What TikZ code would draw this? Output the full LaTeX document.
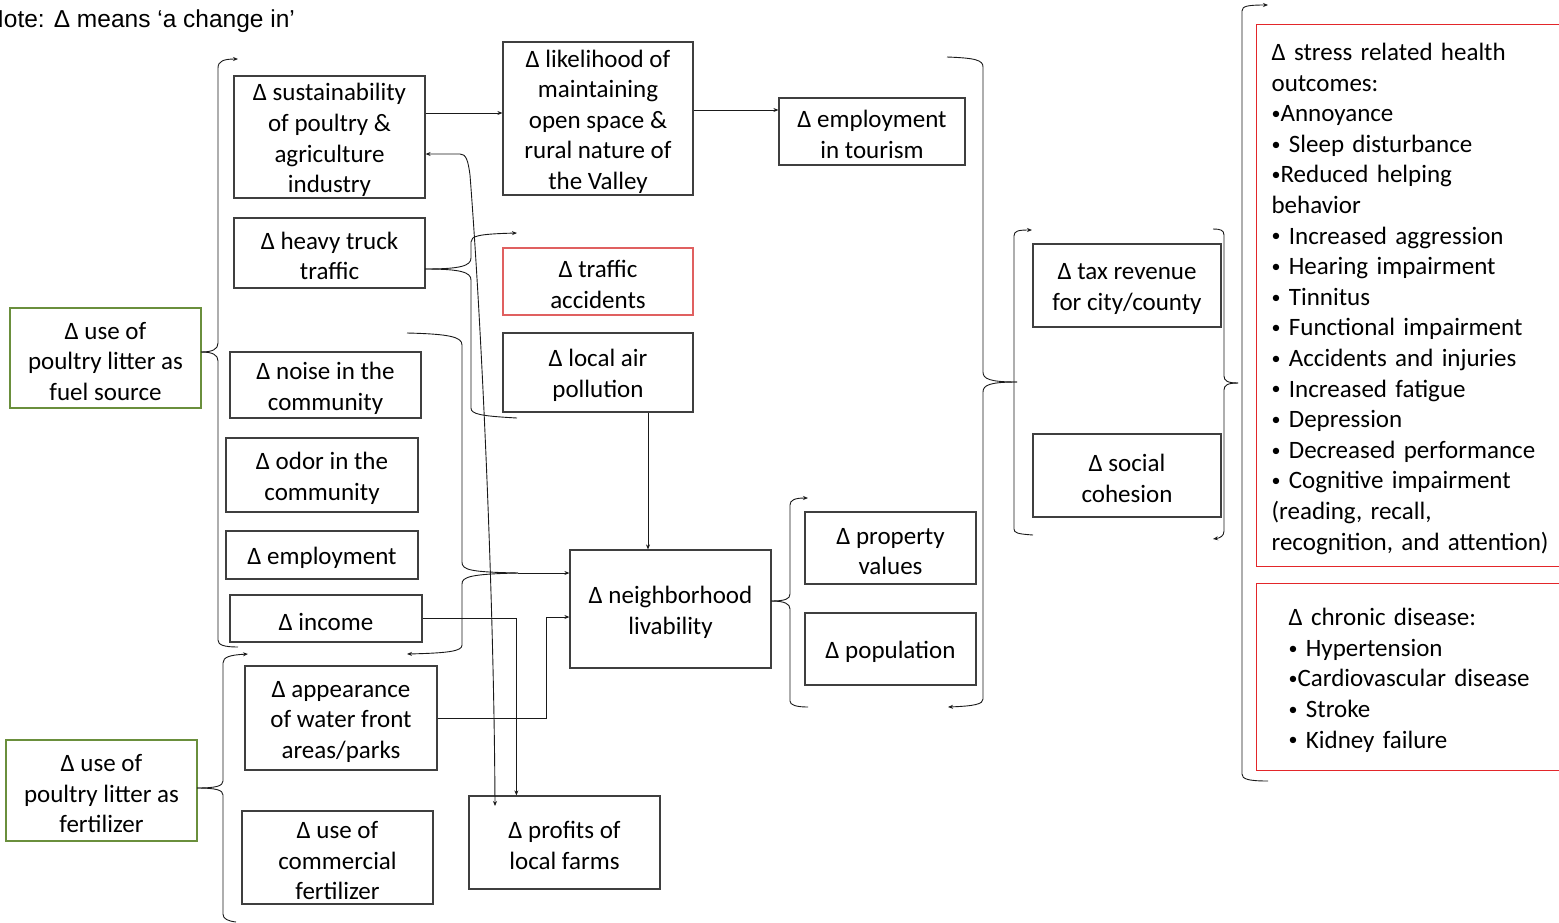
\documentclass[tikz,border=0pt]{standalone}
\usepackage{fontspec}
\setmainfont{Carlito}
\newfontfamily\arialfont{Liberation Sans}
\usetikzlibrary{arrows.meta}
\definecolor{boxgray}{HTML}{3F3F3F}
\definecolor{boxgreen}{HTML}{6A8F3C}
\definecolor{boxred}{HTML}{E06060}
\definecolor{boxred2}{HTML}{E3262A}
\definecolor{linecol}{HTML}{1A1A1A}
\newcommand\bul{\raisebox{2.2pt}{\fontsize{18}{18}\selectfont•}}
\newcommand\T{\rule{0pt}{23.5pt}}
\begin{document}
\begin{tikzpicture}[x=1pt,y=-1pt,
  every node/.style={font=\fontsize{25}{30.6}\selectfont, inner sep=0pt, align=center},
  bx/.style={draw=boxgray, line width=1.2pt, rectangle, execute at begin node={\T}},
  gbx/.style={bx, draw=boxgreen},
  rbx/.style={bx, draw=boxred},
  rbx2/.style={bx, draw=boxred2},
  ln/.style={draw=linecol, line width=0.9pt},
  arr/.style={ln, -{Stealth[length=5pt,width=4pt]}},
  rarr/.style={ln, {Stealth[length=5pt,width=4pt]}-},
  barr/.style={ln, {Stealth[length=5pt,width=4pt]}-{Stealth[length=5pt,width=4pt]}}]
\useasboundingbox (0,0) rectangle (1559,922);

\node[anchor=base west, font=\arialfont\fontsize{24.5}{29}\selectfont] (note) at (-14,27) {Note: Δ means ‘a change in’};

% boxes
\node[bx, minimum width=191, minimum height=122] (sus) at (329.5,137) {\T Δ sustainability\\of poultry \&\\agriculture\\industry};
\node[bx, minimum width=190, minimum height=153] (lik) at (598,118.5) {\T Δ likelihood of\\maintaining\\open space \&\\rural nature of\\the Valley};
\node[bx, minimum width=186, minimum height=67] (tour) at (872,131.5) {\T Δ employment\\in tourism};
\node[bx, minimum width=191, minimum height=70] (truck) at (329.5,253) {\T Δ heavy truck\\traffic};
\node[rbx, minimum width=190, minimum height=67] (acc) at (598,281.5) {\T Δ traffic\\accidents};
\node[bx, minimum width=190, minimum height=79] (air) at (598,372.5) {\T Δ local air\\pollution};
\node[gbx, minimum width=191, minimum height=100] (fuel) at (105.5,358) {\T Δ use of\\poultry litter as\\fuel source};
\node[bx, minimum width=191, minimum height=66] (noise) at (325.5,385) {\T Δ noise in the\\community};
\node[bx, minimum width=192, minimum height=74] (odor) at (322,475) {\T Δ odor in the\\community};
\node[bx, minimum width=192, minimum height=48] (emp) at (322,555) {Δ employment};
\node[bx, minimum width=192, minimum height=47] (inc) at (326,618.5) {Δ income};
\node[bx, minimum width=201, minimum height=118] (liv) at (670.5,609) {\T Δ neighborhood\\livability};
\node[bx, minimum width=171, minimum height=72] (prop) at (890.5,548) {\T Δ property\\values};
\node[bx, minimum width=171, minimum height=72] (pop) at (890.5,649) {Δ population};
\node[bx, minimum width=192, minimum height=104] (app) at (341,718) {\T Δ appearance\\of water front\\areas/parks};
\node[gbx, minimum width=191, minimum height=101] (fert) at (101.5,790.5) {\T Δ use of\\poultry litter as\\fertilizer};
\node[bx, minimum width=191, minimum height=93] (comm) at (337.5,857.5) {\T Δ use of\\commercial\\fertilizer};
\node[bx, minimum width=191, minimum height=93] (prof) at (564.5,842.5) {\T Δ profits of\\local farms};
\node[bx, minimum width=188, minimum height=83] (tax) at (1127,285.5) {\T Δ tax revenue\\for city/county};
\node[bx, minimum width=188, minimum height=83] (soc) at (1127,475.5) {\T Δ social\\cohesion};

\node[rbx2, anchor=north west, minimum height=542, text width=290, inner xsep=15pt, align=left] (stress) at (1256,24) {Δ stress related health\\outcomes:\\\bul Annoyance\\\bul{} Sleep disturbance\\\bul Reduced helping\\behavior\\\bul{} Increased aggression\\\bul{} Hearing impairment\\\bul{} Tinnitus\\\bul{} Functional impairment\\\bul{} Accidents and injuries\\\bul{} Increased fatigue\\\bul{} Depression\\\bul{} Decreased performance\\\bul{} Cognitive impairment\\(reading, recall,\\recognition, and attention)};
\node[rbx2, anchor=north west, minimum height=187, text width=290, inner xsep=32pt, align=left] (chron) at (1256,583) {Δ chronic disease:\\\bul{} Hypertension\\\bul Cardiovascular disease\\\bul{} Stroke\\\bul{} Kidney failure};

% brace tips
\coordinate (tA) at (201,352);
\coordinate (tB) at (197,788);
\coordinate (tC) at (425,269);
\coordinate (tD) at (518,573);
\coordinate (tE) at (771,601);
\coordinate (tF) at (1017,382);
\coordinate (tH) at (1238,383);

% brace A (fuel source)
\draw[rarr] (238,59) .. controls (224,59) and (218,61) .. (218,68) -- (218,343) .. controls (218,349) and (213,352) .. (tA);
\draw[ln] (tA) .. controls (213,352) and (218,355) .. (218,361) -- (218,640) .. controls (218,645) and (224,647) .. (238,647);

% brace B (fertilizer)
\draw[rarr] (248,654) .. controls (230,655) and (223,657) .. (223,663) -- (223,781) .. controls (223,786) and (216,788) .. (tB);
\draw[ln] (tB) .. controls (216,788) and (223,790) .. (223,795) -- (223,914) .. controls (223,919) and (228,921) .. (236,922);

% brace C (truck)
\draw[arr] (tC) .. controls (460,269) and (471,266) .. (471,258) -- (471,242) .. controls (471,236) and (478,234) .. (517,233);
\draw[ln] (tC) .. controls (460,269) and (471,272) .. (471,280) -- (471,408) .. controls (471,414) and (480,416) .. (517,418);

% brace D (noise group -> livability)
\draw[ln] (407,333) .. controls (450,334) and (462,337) .. (462,345) -- (462,562) .. controls (462,570) and (470,572) .. (tD);
\draw[arr] (tD) .. controls (470,574) and (462,577) .. (462,584) -- (462,645) .. controls (462,651) and (450,653) .. (407,654);
\draw[arr] (tD) -- (tD -| liv.west);

% sustainability <-> profits
\draw[barr] (sus.east |- 0,154) -- (460,154) .. controls (466,154) and (468,160) .. (470,175) .. controls (482,330) and (494,600) .. (495,806);

% income -> profits
\draw[arr] (inc.east) -| ([xshift=48pt]prof.north west);
% appearance -> livability
\draw[arr] (app.east) -- ++(109,0) |- ([yshift=-8pt]liv.west);
% air -> livability
\draw[arr] ([xshift=50pt]air.south) -- ([xshift=50pt]air.south |- liv.north);
% sustainability -> likelihood
\draw[arr] ([yshift=24pt]sus.east) -- ([yshift=24pt]sus.east -| lik.west);
% likelihood -> tourism
\draw[arr] ([yshift=8.5pt]lik.east) -- ([yshift=8.5pt]lik.east -| tour.west);

% brace E (livability -> property/population)
\draw[arr] (tE) .. controls (785,601) and (790,599) .. (790,594) -- (790,505) .. controls (790,500) and (795,498) .. (808,498);
\draw[ln] (tE) .. controls (785,601) and (790,604) .. (790,609) -- (790,701) .. controls (790,705) and (796,707) .. (808,707);

% brace F (big)
\draw[ln] (947,57) .. controls (975,58) and (983,60) .. (983,67) -- (983,372) .. controls (983,379) and (990,382) .. (tF);
\draw[arr] (tF) .. controls (990,382) and (983,385) .. (983,392) -- (983,699) .. controls (983,704) and (975,706) .. (948,707);

% brace G (tax / social)
\draw[rarr] (1032,230) .. controls (1018,230) and (1014,231) .. (1014,236) -- (1014,529) .. controls (1014,533) and (1018,534) .. (1033,535);

% brace H
\draw[ln] (1213,229) .. controls (1220,229) and (1224,230) .. (1224,235) -- (1224,376) .. controls (1224,381) and (1228,383) .. (tH);
\draw[arr] (tH) .. controls (1228,383) and (1224,385) .. (1224,390) -- (1224,531) .. controls (1224,536) and (1220,538) .. (1213,539);

% brace I (health outcomes)
\draw[rarr] (1268,5) .. controls (1248,5) and (1242,6) .. (1242,11) -- (1242,774) .. controls (1242,779) and (1248,781) .. (1268,781);
\end{tikzpicture}
\end{document}
